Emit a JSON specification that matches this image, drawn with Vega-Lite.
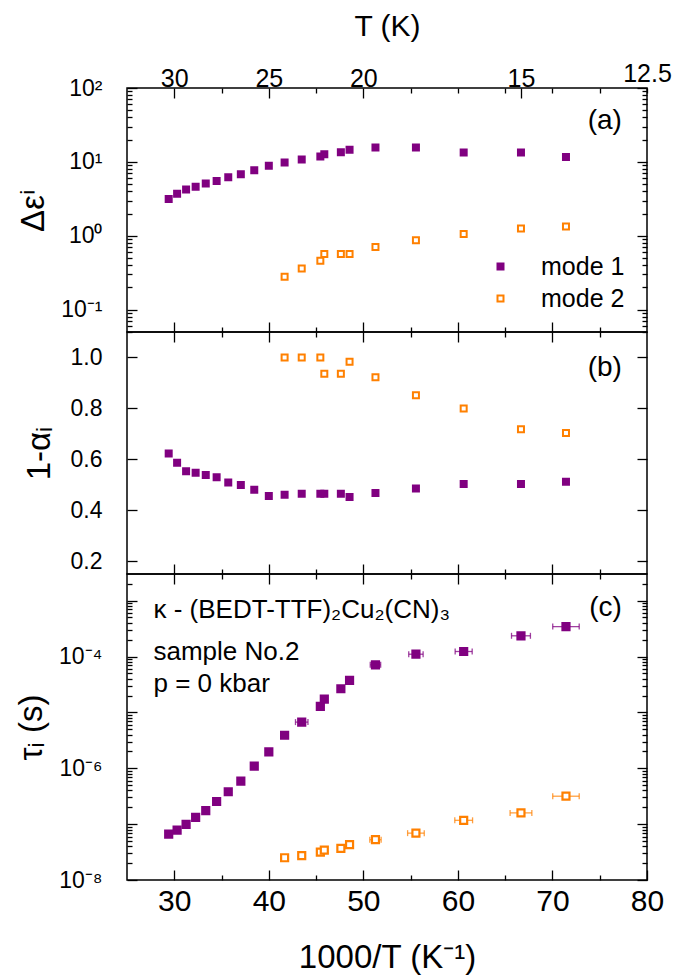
{
  "$schema": "https://vega.github.io/schema/vega-lite/v6.json",
  "background": "white",
  "padding": {"left": 14, "top": 10, "right": 5, "bottom": 5},
  "spacing": 0,
  "bounds": "flush",
  "config": {
    "font": "Liberation Sans",
    "view": {"stroke": "black", "strokeWidth": 1.5},
    "axis": {"grid": false, "domain": false, "tickColor": "black", "tickWidth": 1.3, "labelColor": "black", "titleColor": "black", "labelFont": "Liberation Sans", "titleFont": "Liberation Sans", "titleFontWeight": "normal", "labelOverlap": false, "labelFlush": false, "labelBound": false},
    "text": {"font": "Liberation Sans"},
    "legend": {"labelFont": "Liberation Sans"}
  },
  "datasets": {
    "pts": [
      {"x": 29.41, "mode": "mode 1", "de": 3.16, "alpha": 0.623, "tau": 6.6e-8},
      {"x": 30.30, "mode": "mode 1", "de": 3.7, "alpha": 0.587, "tau": 7.8e-8},
      {"x": 31.25, "mode": "mode 1", "de": 4.24, "alpha": 0.553, "tau": 9.9e-8},
      {"x": 32.26, "mode": "mode 1", "de": 4.6, "alpha": 0.547, "tau": 1.32e-7},
      {"x": 33.33, "mode": "mode 1", "de": 5.1, "alpha": 0.539, "tau": 1.74e-7},
      {"x": 34.48, "mode": "mode 1", "de": 5.5, "alpha": 0.530, "tau": 2.54e-7},
      {"x": 35.71, "mode": "mode 1", "de": 6.2, "alpha": 0.509, "tau": 3.8e-7},
      {"x": 37.04, "mode": "mode 1", "de": 6.8, "alpha": 0.499, "tau": 5.9e-7},
      {"x": 38.46, "mode": "mode 1", "de": 7.7, "alpha": 0.481, "tau": 1.09e-6},
      {"x": 40.00, "mode": "mode 1", "de": 8.9, "alpha": 0.456, "tau": 1.96e-6},
      {"x": 41.67, "mode": "mode 1", "de": 9.8, "alpha": 0.461, "tau": 3.9e-6},
      {"x": 43.48, "mode": "mode 1", "de": 10.8, "alpha": 0.465, "tau": 6.7e-6},
      {"x": 45.45, "mode": "mode 1", "de": 11.8, "alpha": 0.465, "tau": 1.28e-5},
      {"x": 45.87, "mode": "mode 1", "de": 12.7, "alpha": 0.465, "tau": 1.73e-5},
      {"x": 47.62, "mode": "mode 1", "de": 13.5, "alpha": 0.465, "tau": 2.65e-5},
      {"x": 48.54, "mode": "mode 1", "de": 14.6, "alpha": 0.452, "tau": 3.73e-5},
      {"x": 51.28, "mode": "mode 1", "de": 15.7, "alpha": 0.468, "tau": 7.1e-5},
      {"x": 55.56, "mode": "mode 1", "de": 15.7, "alpha": 0.486, "tau": 1.10e-4},
      {"x": 60.61, "mode": "mode 1", "de": 13.4, "alpha": 0.503, "tau": 1.23e-4},
      {"x": 66.67, "mode": "mode 1", "de": 13.4, "alpha": 0.503, "tau": 2.35e-4},
      {"x": 71.43, "mode": "mode 1", "de": 11.7, "alpha": 0.512, "tau": 3.43e-4},
      {"x": 41.67, "mode": "mode 2", "de": 0.28, "alpha": 1.0, "tau": 2.5e-8},
      {"x": 43.48, "mode": "mode 2", "de": 0.362, "alpha": 1.0, "tau": 2.73e-8},
      {"x": 45.45, "mode": "mode 2", "de": 0.461, "alpha": 1.0, "tau": 3.16e-8},
      {"x": 45.87, "mode": "mode 2", "de": 0.569, "alpha": 0.936, "tau": 3.43e-8},
      {"x": 47.62, "mode": "mode 2", "de": 0.569, "alpha": 0.936, "tau": 3.68e-8},
      {"x": 48.54, "mode": "mode 2", "de": 0.569, "alpha": 0.983, "tau": 4.28e-8},
      {"x": 51.28, "mode": "mode 2", "de": 0.708, "alpha": 0.922, "tau": 5.26e-8},
      {"x": 55.56, "mode": "mode 2", "de": 0.873, "alpha": 0.852, "tau": 6.9e-8},
      {"x": 60.61, "mode": "mode 2", "de": 1.06, "alpha": 0.8, "tau": 1.17e-7},
      {"x": 66.67, "mode": "mode 2", "de": 1.26, "alpha": 0.718, "tau": 1.59e-7},
      {"x": 71.43, "mode": "mode 2", "de": 1.34, "alpha": 0.704, "tau": 3.16e-7}
    ],
    "err": [
      {"mode": "mode 1", "lo": 42.82, "hi": 44.14, "tau": 6.7e-6},
      {"mode": "mode 1", "lo": 50.73, "hi": 51.83, "tau": 7.1e-5},
      {"mode": "mode 1", "lo": 54.80, "hi": 56.32, "tau": 1.10e-4},
      {"mode": "mode 1", "lo": 59.71, "hi": 61.51, "tau": 1.23e-4},
      {"mode": "mode 1", "lo": 65.67, "hi": 67.67, "tau": 2.35e-4},
      {"mode": "mode 1", "lo": 70.03, "hi": 72.83, "tau": 3.43e-4},
      {"mode": "mode 2", "lo": 50.68, "hi": 51.88, "tau": 5.26e-8},
      {"mode": "mode 2", "lo": 54.68, "hi": 56.44, "tau": 6.9e-8},
      {"mode": "mode 2", "lo": 59.67, "hi": 61.55, "tau": 1.17e-7},
      {"mode": "mode 2", "lo": 65.52, "hi": 67.82, "tau": 1.59e-7},
      {"mode": "mode 2", "lo": 70.03, "hi": 72.83, "tau": 3.16e-7}
    ],
    "annA": [{"x": 77.35, "y": 35.7, "t": "(a)"}],
    "annB": [{"x": 77.35, "y": 0.959, "t": "(b)"}],
    "annC": [{"x": 77.35, "y": 0.00075, "t": "(c)"}],
    "annC2": [
      {"x": 27.8, "y": 0.000495, "t": "κ - (BEDT-TTF)₂Cu₂(CN)₃"},
      {"x": 27.8, "y": 0.000088, "t": "sample No.2"},
      {"x": 27.8, "y": 0.0000235, "t": "p = 0 kbar"}
    ]
  },
  "vconcat": [
    {
      "width": 520,
      "height": 244,
      "layer": [
        {
          "data": {"name": "pts"},
          "mark": {"type": "square", "size": 36, "strokeWidth": 2, "opacity": 1},
          "encoding": {
            "x": {"field": "x", "type": "quantitative", "scale": {"domain": [25, 80], "nice": false, "zero": false},
              "axis": {"orient": "bottom", "values": [30, 35, 40, 45, 50, 55, 60, 65, 70, 75], "labels": false, "title": null,
                "tickSize": {"condition": {"test": "datum.value % 10 == 0", "value": -10}, "value": -5}}},
            "y": {"field": "de", "type": "quantitative", "scale": {"type": "log", "domain": [0.05, 100], "nice": false},
              "axis": {"orient": "left", "title": "Δεⁱ", "titleFontSize": 33, "titlePadding": 10, "labelPadding": 35,
                "labelFontSize": {"condition": {"test": "datum.value==0.1||datum.value==1||datum.value==10||datum.value==100", "value": 23}, "value": 0},
                "values": [0.05, 0.06, 0.07, 0.08, 0.09, 0.1, 0.2, 0.3, 0.4, 0.5, 0.6, 0.7, 0.8, 0.9, 1, 2, 3, 4, 5, 6, 7, 8, 9, 10, 20, 30, 40, 50, 60, 70, 80, 90, 100],
                "labelExpr": "datum.value==100?'10²':datum.value==10?'10¹':datum.value==1?'10⁰':datum.value==0.1?'10⁻¹':''",
                "tickSize": {"condition": {"test": "datum.value==0.1||datum.value==1||datum.value==10||datum.value==100", "value": -10}, "value": -5}}},
            "fill": {"field": "mode", "type": "nominal", "scale": {"domain": ["mode 1", "mode 2"], "range": ["#800080", "#ffffff"]},
              "legend": {"orient": "none", "legendX": 361, "legendY": 166, "title": null, "labelFontSize": 25, "symbolType": "square", "symbolSize": 36, "symbolStrokeWidth": 2, "rowPadding": 6, "labelOffset": 28, "padding": 0}},
            "stroke": {"field": "mode", "type": "nominal", "scale": {"domain": ["mode 1", "mode 2"], "range": ["#800080", "#ff8000"]},
              "legend": {"orient": "none", "legendX": 361, "legendY": 166, "title": null, "labelFontSize": 25, "symbolType": "square", "symbolSize": 36, "symbolStrokeWidth": 2, "rowPadding": 6, "labelOffset": 28, "padding": 0}}
          }
        },
        {
          "data": {"name": "pts"},
          "mark": {"type": "point", "opacity": 0},
          "encoding": {
            "x": {"field": "x", "type": "quantitative",
              "axis": {"orient": "top", "title": "T (K)", "titleFontSize": 30, "titlePadding": 20, "labelFontSize": 25, "labelPadding": 7,
                "values": [30, 35, 40, 45, 50, 55, 60, 65, 66.667, 70, 75, 80],
                "labelExpr": "datum.value==30?'30':datum.value==40?'25':datum.value==50?'20':datum.value==66.667?'15':datum.value==80?'12.5':''",
                "tickSize": {"condition": {"test": "datum.value==30||datum.value==40||datum.value==50||datum.value==66.667", "value": -10}, "value": -5}}},
            "y": {"field": "de", "type": "quantitative",
              "axis": {"orient": "right", "title": null, "labels": false,
                "values": [0.05, 0.06, 0.07, 0.08, 0.09, 0.1, 0.2, 0.3, 0.4, 0.5, 0.6, 0.7, 0.8, 0.9, 1, 2, 3, 4, 5, 6, 7, 8, 9, 10, 20, 30, 40, 50, 60, 70, 80, 90, 100],
                "tickSize": {"condition": {"test": "datum.value==0.1||datum.value==1||datum.value==10||datum.value==100", "value": -10}, "value": -5}}}
          }
        },
        {
          "data": {"name": "annA"},
          "mark": {"type": "text", "align": "right", "baseline": "middle", "fontSize": 28, "color": "black"},
          "encoding": {
            "x": {"field": "x", "type": "quantitative", "axis": null},
            "y": {"field": "y", "type": "quantitative", "axis": null},
            "text": {"field": "t"}
          }
        }
      ],
      "resolve": {"axis": {"x": "independent", "y": "independent"}}
    },
    {
      "width": 520,
      "height": 242,
      "layer": [
        {
          "data": {"name": "pts"},
          "mark": {"type": "square", "size": 36, "strokeWidth": 2, "opacity": 1},
          "encoding": {
            "x": {"field": "x", "type": "quantitative", "scale": {"domain": [25, 80], "nice": false, "zero": false},
              "axis": {"orient": "bottom", "values": [30, 35, 40, 45, 50, 55, 60, 65, 70, 75], "labels": false, "title": null,
                "tickSize": {"condition": {"test": "datum.value % 10 == 0", "value": -10}, "value": -5}}},
            "y": {"field": "alpha", "type": "quantitative", "scale": {"domain": [0.15, 1.1], "nice": false, "zero": false},
              "axis": {"orient": "left", "title": "1-αᵢ", "titleFontSize": 33, "titlePadding": 14, "labelFontSize": 23, "labelPadding": 35,
                "values": [0.2, 0.4, 0.6, 0.8, 1.0], "format": ".1f", "tickSize": -10}},
            "fill": {"field": "mode", "type": "nominal", "scale": {"domain": ["mode 1", "mode 2"], "range": ["#800080", "#ffffff"]}, "legend": null},
            "stroke": {"field": "mode", "type": "nominal", "scale": {"domain": ["mode 1", "mode 2"], "range": ["#800080", "#ff8000"]}, "legend": null}
          }
        },
        {
          "data": {"name": "pts"},
          "mark": {"type": "point", "opacity": 0},
          "encoding": {
            "x": {"field": "x", "type": "quantitative",
              "axis": {"orient": "top", "title": null, "labels": false, "values": [30, 35, 40, 45, 50, 55, 60, 65, 70, 75],
                "tickSize": {"condition": {"test": "datum.value % 10 == 0", "value": -10}, "value": -5}}},
            "y": {"field": "alpha", "type": "quantitative",
              "axis": {"orient": "right", "title": null, "labels": false, "values": [0.2, 0.4, 0.6, 0.8, 1.0], "tickSize": -10}}
          }
        },
        {
          "data": {"name": "annB"},
          "mark": {"type": "text", "align": "right", "baseline": "middle", "fontSize": 28, "color": "black"},
          "encoding": {
            "x": {"field": "x", "type": "quantitative", "axis": null},
            "y": {"field": "y", "type": "quantitative", "axis": null},
            "text": {"field": "t"}
          }
        }
      ],
      "resolve": {"axis": {"x": "independent", "y": "independent"}}
    },
    {
      "width": 520,
      "height": 306,
      "layer": [
        {
          "data": {"name": "err"},
          "mark": {"type": "rule", "strokeWidth": 1.3, "opacity": 0.75},
          "encoding": {
            "x": {"field": "lo", "type": "quantitative", "scale": {"domain": [25, 80], "nice": false, "zero": false}, "axis": null},
            "x2": {"field": "hi"},
            "y": {"field": "tau", "type": "quantitative", "scale": {"type": "log", "domain": [1e-8, 0.003], "nice": false}, "axis": null},
            "color": {"field": "mode", "type": "nominal", "scale": {"domain": ["mode 1", "mode 2"], "range": ["#800080", "#ff8000"]}, "legend": null}
          }
        },
        {
          "data": {"name": "err"},
          "mark": {"type": "tick", "orient": "vertical", "size": 6, "thickness": 1.3, "opacity": 0.75},
          "encoding": {
            "x": {"field": "lo", "type": "quantitative", "axis": null},
            "y": {"field": "tau", "type": "quantitative", "axis": null},
            "color": {"field": "mode", "type": "nominal", "legend": null}
          }
        },
        {
          "data": {"name": "err"},
          "mark": {"type": "tick", "orient": "vertical", "size": 6, "thickness": 1.3, "opacity": 0.75},
          "encoding": {
            "x": {"field": "hi", "type": "quantitative", "axis": null},
            "y": {"field": "tau", "type": "quantitative", "axis": null},
            "color": {"field": "mode", "type": "nominal", "legend": null}
          }
        },
        {
          "data": {"name": "pts"},
          "mark": {"type": "square", "size": 49, "strokeWidth": 2.2, "opacity": 1},
          "encoding": {
            "x": {"field": "x", "type": "quantitative",
              "axis": {"orient": "bottom", "values": [30, 35, 40, 45, 50, 55, 60, 65, 70, 75, 80], "labelExpr": "datum.value % 10 == 0 ? datum.label : ''",
                "labelFontSize": 30, "labelPadding": 16, "title": "1000/T (K⁻¹)", "titleFontSize": 33, "titlePadding": 20,
                "tickSize": {"condition": {"test": "datum.value % 10 == 0", "value": -10}, "value": -5}}},
            "y": {"field": "tau", "type": "quantitative",
              "axis": {"orient": "left", "title": "τᵢ (s)", "titleFontSize": 33, "titlePadding": 10, "labelPadding": 35,
                "labelFontSize": {"condition": {"test": "datum.value==1e-8||datum.value==1e-6||datum.value==1e-4", "value": 23}, "value": 0},
                "values": [1e-8, 2e-8, 3e-8, 4e-8, 5e-8, 6e-8, 7e-8, 8e-8, 9e-8, 1e-7, 2e-7, 3e-7, 4e-7, 5e-7, 6e-7, 7e-7, 8e-7, 9e-7, 1e-6, 2e-6, 3e-6, 4e-6, 5e-6, 6e-6, 7e-6, 8e-6, 9e-6, 1e-5, 2e-5, 3e-5, 4e-5, 5e-5, 6e-5, 7e-5, 8e-5, 9e-5, 1e-4, 2e-4, 3e-4, 4e-4, 5e-4, 6e-4, 7e-4, 8e-4, 9e-4, 1e-3, 2e-3],
                "labelExpr": "datum.value==1e-4?'10⁻⁴':datum.value==1e-6?'10⁻⁶':datum.value==1e-8?'10⁻⁸':''",
                "tickSize": {"condition": {"test": "datum.value==1e-8||datum.value==1e-7||datum.value==1e-6||datum.value==1e-5||datum.value==1e-4||datum.value==1e-3", "value": -10}, "value": -5}}},
            "fill": {"field": "mode", "type": "nominal", "scale": {"domain": ["mode 1", "mode 2"], "range": ["#800080", "#ffffff"]}, "legend": null},
            "stroke": {"field": "mode", "type": "nominal", "scale": {"domain": ["mode 1", "mode 2"], "range": ["#800080", "#ff8000"]}, "legend": null}
          }
        },
        {
          "data": {"name": "pts"},
          "mark": {"type": "point", "opacity": 0},
          "encoding": {
            "x": {"field": "x", "type": "quantitative",
              "axis": {"orient": "top", "title": null, "labels": false, "values": [30, 35, 40, 45, 50, 55, 60, 65, 70, 75],
                "tickSize": {"condition": {"test": "datum.value % 10 == 0", "value": -10}, "value": -5}}},
            "y": {"field": "tau", "type": "quantitative",
              "axis": {"orient": "right", "title": null, "labels": false,
                "values": [1e-8, 2e-8, 3e-8, 4e-8, 5e-8, 6e-8, 7e-8, 8e-8, 9e-8, 1e-7, 2e-7, 3e-7, 4e-7, 5e-7, 6e-7, 7e-7, 8e-7, 9e-7, 1e-6, 2e-6, 3e-6, 4e-6, 5e-6, 6e-6, 7e-6, 8e-6, 9e-6, 1e-5, 2e-5, 3e-5, 4e-5, 5e-5, 6e-5, 7e-5, 8e-5, 9e-5, 1e-4, 2e-4, 3e-4, 4e-4, 5e-4, 6e-4, 7e-4, 8e-4, 9e-4, 1e-3, 2e-3],
                "tickSize": {"condition": {"test": "datum.value==1e-8||datum.value==1e-7||datum.value==1e-6||datum.value==1e-5||datum.value==1e-4||datum.value==1e-3", "value": -10}, "value": -5}}}
          }
        },
        {
          "data": {"name": "annC"},
          "mark": {"type": "text", "align": "right", "baseline": "middle", "fontSize": 28, "color": "black"},
          "encoding": {
            "x": {"field": "x", "type": "quantitative", "axis": null},
            "y": {"field": "y", "type": "quantitative", "axis": null},
            "text": {"field": "t"}
          }
        },
        {
          "data": {"name": "annC2"},
          "mark": {"type": "text", "align": "left", "baseline": "alphabetic", "fontSize": 26, "color": "black"},
          "encoding": {
            "x": {"field": "x", "type": "quantitative", "axis": null},
            "y": {"field": "y", "type": "quantitative", "axis": null},
            "text": {"field": "t"}
          }
        }
      ],
      "resolve": {"axis": {"x": "independent", "y": "independent"}}
    }
  ],
  "resolve": {"scale": {"fill": "independent", "stroke": "independent", "color": "independent"}}
}
